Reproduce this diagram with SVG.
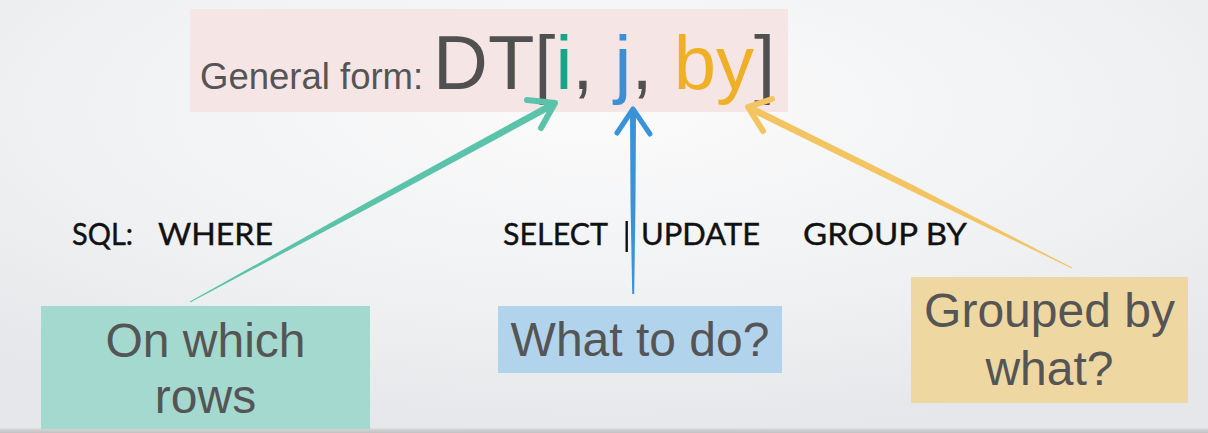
<svg xmlns="http://www.w3.org/2000/svg" width="1208" height="433" viewBox="0 0 1208 433">
<defs>
<radialGradient id="bg" cx="50%" cy="25%" r="75%" fx="50%" fy="25%">
<stop offset="0" stop-color="#fbfbfc"/>
<stop offset="0.6" stop-color="#f0f1f2"/>
<stop offset="1" stop-color="#e6e7ea"/>
</radialGradient>
<linearGradient id="edge" x1="0" y1="0" x2="0" y2="1">
<stop offset="0" stop-color="#d6d6d6"/>
<stop offset="1" stop-color="#c2c2c2"/>
</linearGradient>
</defs>
<style>
.sans{font-family:"Liberation Sans",Arial,sans-serif}
.box{fill:#555555;font-size:48px;text-anchor:middle}
.sql{font-family:Lato,"Open Sans",sans-serif;font-size:31px;fill:#111111;stroke:#111111;stroke-width:0.4}
.barb{fill:none;stroke-linecap:round;stroke-linejoin:round}
</style>
<rect x="0" y="0" width="1208" height="433" fill="url(#bg)"/>
<rect x="0" y="428.5" width="1208" height="4.5" fill="url(#edge)"/>

<g id="general-form">
<rect x="190" y="9" width="598" height="103" fill="#f6e5e5"/>
<text class="sans" x="200" y="89" font-size="36.5" fill="#555555">General form:</text>
<text class="sans" x="433" y="89" font-size="76" fill="#505050">DT[<tspan fill="#17a589">i</tspan>, <tspan fill="#3b8fd4">j</tspan>, <tspan fill="#efb025">by</tspan>]</text>
</g>

<g id="sql-labels">
<text class="sql" x="72" y="245" textLength="61" lengthAdjust="spacingAndGlyphs">SQL:</text>
<text class="sql" x="158" y="245" textLength="115" lengthAdjust="spacingAndGlyphs">WHERE</text>
<text class="sql" x="503" y="245" textLength="105" lengthAdjust="spacingAndGlyphs">SELECT</text>
<rect x="625.5" y="221" width="2.4" height="31" fill="#111111"/>
<text class="sql" x="641" y="245" textLength="119" lengthAdjust="spacingAndGlyphs">UPDATE</text>
<text class="sql" x="803" y="245" textLength="164" lengthAdjust="spacingAndGlyphs">GROUP BY</text>
</g>

<g id="node-rows">
<rect x="41" y="306" width="329" height="123" fill="#a3d9cf"/>
<text class="sans box" x="205.5" y="357">On which</text>
<text class="sans box" x="205.5" y="413">rows</text>
</g>

<g id="node-what">
<rect x="498" y="306" width="284" height="67" fill="#b2d3ec"/>
<text class="sans box" x="640" y="356">What to do?</text>
</g>

<g id="node-grouped">
<rect x="911" y="277" width="277" height="126" fill="#eed7a1"/>
<text class="sans box" x="1049.5" y="327">Grouped by</text>
<text class="sans box" x="1049.5" y="385">what?</text>
</g>

<g id="connectors">
<g id="arrow-i" fill="#5cc3ab" stroke="#5cc3ab">
<polygon points="550.3,101.9 553.7,108.1 372.4,206.1 190.2,302.4 189.8,301.6 369.6,200.9" stroke="none"/>
<polyline class="barb" points="527,100 555,103 541,128" stroke-width="6"/>
</g>
<g id="arrow-j" fill="#3a92d8" stroke="#3a92d8">
<polygon points="630,112 636,112 635.5,200 634.2,294 632.2,294 630.5,200" stroke="none"/>
<polyline class="barb" points="617,133 633,109 650,134" stroke-width="5"/>
</g>
<g id="arrow-by" fill="#f4c462" stroke="#f4c462">
<polygon points="750.4,112.1 753.6,105.9 913.3,185.3 1072.2,267.6 1071.8,268.4 910.7,190.7" stroke="none"/>
<polyline class="barb" points="772,99 748,107 763,131" stroke-width="6"/>
</g>
</g>
</svg>
